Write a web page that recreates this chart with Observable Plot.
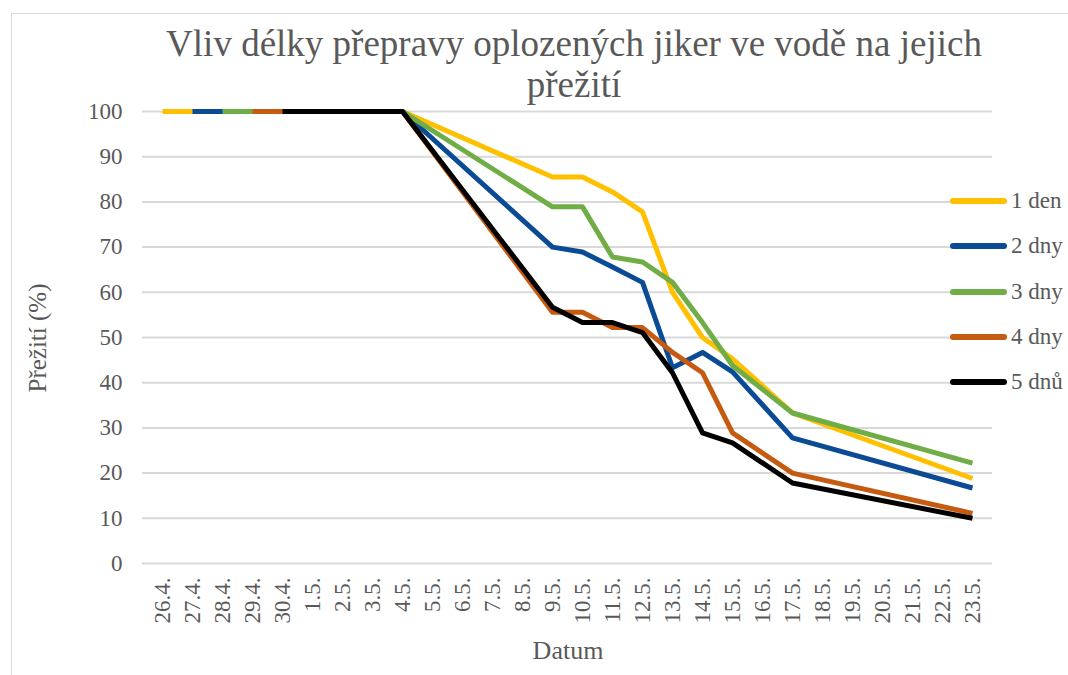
<!DOCTYPE html>
<html>
<head>
<meta charset="utf-8">
<script src="https://cdn.jsdelivr.net/npm/d3@7"></script>
<script src="https://cdn.jsdelivr.net/npm/@observablehq/plot@0.6"></script>
<style>
  html, body { margin: 0; padding: 0; background: #fff; }
  #wrap { position: relative; width: 1068px; height: 675px; overflow: hidden; font-family: "Liberation Serif", "Times New Roman", serif; color: #595959; }
  #frame { position: absolute; left: 11px; top: 13px; width: 1200px; height: 800px; border-top: 1.5px solid #d9d9d9; border-left: 1.5px solid #d9d9d9; }
  #title { position: absolute; left: 74px; width: 1000px; top: 23px; text-align: center; font-size: 37px; line-height: 41px; }
  #ylabel { position: absolute; left: 38px; top: 338px; transform: translate(-50%, -50%) rotate(-90deg); font-size: 25px; white-space: nowrap; }
  #xlabel { position: absolute; left: 568px; top: 651px; transform: translate(-50%, -50%); font-size: 26px; }
  #chart { position: absolute; left: 0; top: 0; }
  #chart svg text { font-size: 23px !important; font-family: "Liberation Serif", "Times New Roman", serif !important; fill: #595959; }
  .leg { position: absolute; left: 950px; height: 26px; display: flex; align-items: center; font-size: 23px; white-space: nowrap; transform: translateY(-50%); }
  .leg .sw { width: 57px; height: 6px; border-radius: 3px; margin-right: 4px; }
</style>
</head>
<body>
<div id="wrap">
  <div id="frame"></div>
  <div id="chart"></div>
  <div id="title">Vliv délky přepravy oplozených jiker ve vodě na jejich<br>přežití</div>
  <div id="ylabel">Přežití (%)</div>
  <div id="xlabel">Datum</div>
  <div id="legend"></div>
</div>
<script>
const dates = ["26.4.","27.4.","28.4.","29.4.","30.4.","1.5.","2.5.","3.5.","4.5.","5.5.","6.5.","7.5.","8.5.","9.5.","10.5.","11.5.","12.5.","13.5.","14.5.","15.5.","16.5.","17.5.","18.5.","19.5.","20.5.","21.5.","22.5.","23.5."];

const seriesNames = ["1 den", "2 dny", "3 dny", "4 dny", "5 dnů"];
const seriesColors = ["#FFC000", "#0B4A94", "#70AD47", "#C55A11", "#000000"];

const den1 = [100,100,100,100,100,100,100,100,100, null,null,null,null, 85.5,85.5,82.2,77.8,60.0,50.0,45.3, null, 33.3, null,null,null,null,null, 18.8];
const dny2 = [null,100,100,100,100,100,100,100,100, null,null,null,null, 70.0,68.9,65.6,62.2,43.3,46.7,42.4, null, 27.8, null,null,null,null,null, 16.7];
const dny3 = [null,null,100,100,100,100,100,100,100, null,null,null,null, 78.9,78.9,67.8,66.7,62.2,53.3,43.8, null, 33.3, null,null,null,null,null, 22.2];
const dny4 = [null,null,null,100,100,100,100,100,100, null,null,null,null, 55.6,55.6,52.2,52.2,46.7,42.2,28.9, null, 20.0, null,null,null,null,null, 11.1];
const dnu5 = [null,null,null,null,100,100,100,100,100, null,null,null,null, 56.7,53.3,53.3,51.1,42.2,28.9,26.7, null, 17.8, null,null,null,null,null, 10.0];

const yTicks = [0,10,20,30,40,50,60,70,80,90,100];

const allSeries = [den1, dny2, dny3, dny4, dnu5];
const rows = [];
allSeries.forEach((vals, si) => {
  vals.forEach((v, i) => {
    if (v !== null) rows.push({series: seriesNames[si], date: dates[i], value: v});
  });
});

const chart = Plot.plot({
  width: 1068,
  height: 675,
  marginLeft: 142,
  marginRight: 76,
  marginTop: 111,
  marginBottom: 112,
  style: {fontFamily: "'Liberation Serif', 'Times New Roman', serif", fontSize: "23px", color: "#595959", background: "transparent"},
  x: {type: "point", domain: dates, padding: 0.5},
  y: {domain: [0, 100]},
  color: {domain: seriesNames, range: seriesColors},
  marks: [
    Plot.gridY(yTicks, {stroke: "#d9d9d9", strokeOpacity: 1, strokeWidth: 2}),
    Plot.axisY(yTicks, {tickSize: 0, tickPadding: 20, label: null, fontSize: 23}),
    Plot.axisX({tickSize: 0, tickPadding: 14, tickRotate: -90, label: null, fontSize: 23}),
    Plot.line(rows, {x: "date", y: "value", z: "series", stroke: "series", strokeWidth: 5, strokeLinejoin: "round", strokeLinecap: "butt"})
  ]
});
document.getElementById("chart").appendChild(chart);

const legYs = [201, 246, 292, 337, 382];
const legend = document.getElementById("legend");
seriesNames.forEach((n, i) => {
  const d = document.createElement("div");
  d.className = "leg";
  d.style.top = legYs[i] + "px";
  d.innerHTML = `<div class="sw" style="background:${seriesColors[i]}"></div><span>${n}</span>`;
  legend.appendChild(d);
});
</script>
</body>
</html>
